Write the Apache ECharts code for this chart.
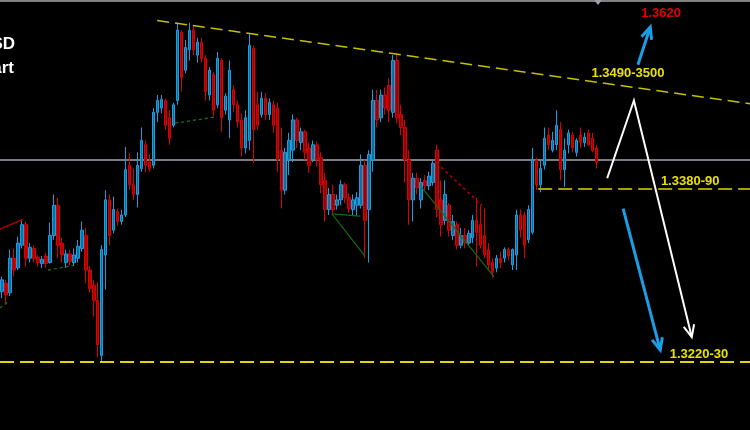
<!DOCTYPE html>
<html><head><meta charset="utf-8">
<script src="https://cdn.jsdelivr.net/npm/echarts/dist/echarts.min.js"></script>
<style>html,body{margin:0;padding:0;background:#000}#c{width:750px;height:430px}</style>
</head><body><div id="c"></div>
<script>
// ---- candle data (price) ----
const open = [
1.3290,1.3298,1.3289,1.3321,1.3312,1.3333,1.3352,1.3321,1.3330,1.3322,
1.3316,1.3323,1.3317,1.3342,1.3370,1.3335,1.3317,1.3325,1.3317,1.3321,
1.3330,1.3342,1.3310,1.3296,1.3282,1.3231,1.3324,1.3375,1.3347,1.3364,
1.3355,1.3361,1.3407,1.3389,1.3380,1.3404,1.3426,1.3410,1.3407,1.3456,
1.3460,1.3467,1.3451,1.3444,1.3467,1.3530,1.3495,1.3514,1.3532,1.3509,
1.3521,1.3506,1.3472,1.3491,1.3463,1.3504,1.3458,1.3449,1.3477,1.3463,
1.3449,1.3423,1.3430,1.3515,1.3463,1.3454,1.3469,1.3454,1.3463,1.3460,
1.3421,1.3384,1.3412,1.3421,1.3449,1.3428,1.3438,1.3423,1.3412,1.3426,
1.3414,1.3393,1.3366,1.3380,1.3370,1.3375,1.3389,1.3377,1.3366,1.3370,
1.3370,1.3407,1.3366,1.3412,1.3467,1.3451,1.3472,1.3481,1.3456,1.3504,
1.3454,1.3442,1.3412,1.3375,1.3395,1.3375,1.3393,1.3388,1.3391,1.3421,
1.3375,1.3356,1.3370,1.3342,1.3352,1.3333,1.3342,1.3335,1.3340,1.3356,
1.3352,1.3342,1.3329,1.3317,1.3312,1.3321,1.3321,1.3329,1.3315,1.3324,
1.3361,1.3361,1.3338,1.3345,1.3412,1.3389,1.3407,1.3435,1.3421,1.3426,
1.3440,1.3403,1.3426,1.3435,1.3419,1.3435,1.3428,1.3437,1.3432,1.3423];
const close = [
1.3301,1.3287,1.3321,1.3310,1.3335,1.3352,1.3321,1.3331,1.3321,1.3317,
1.3320,1.3316,1.3342,1.3370,1.3333,1.3324,1.3325,1.3318,1.3324,1.3332,
1.3347,1.3310,1.3293,1.3282,1.3241,1.3329,1.3375,1.3342,1.3366,1.3355,
1.3361,1.3403,1.3389,1.3380,1.3407,1.3430,1.3407,1.3404,1.3456,1.3467,
1.3468,1.3444,1.3432,1.3463,1.3532,1.3488,1.3516,1.3532,1.3514,1.3521,
1.3506,1.3475,1.3495,1.3458,1.3506,1.3451,1.3471,1.3495,1.3463,1.3447,
1.3423,1.3451,1.3518,1.3440,1.3444,1.3469,1.3454,1.3465,1.3444,1.3412,
1.3384,1.3419,1.3430,1.3449,1.3430,1.3438,1.3419,1.3407,1.3426,1.3412,
1.3389,1.3366,1.3380,1.3366,1.3375,1.3389,1.3377,1.3367,1.3375,1.3377,
1.3407,1.3356,1.3417,1.3467,1.3449,1.3472,1.3460,1.3458,1.3504,1.3451,
1.3442,1.3412,1.3375,1.3395,1.3386,1.3391,1.3388,1.3397,1.3409,1.3366,
1.3352,1.3380,1.3347,1.3355,1.3333,1.3342,1.3335,1.3344,1.3356,1.3345,
1.3333,1.3324,1.3315,1.3308,1.3321,1.3317,1.3329,1.3323,1.3329,1.3361,
1.3347,1.3333,1.3366,1.3412,1.3389,1.3404,1.3432,1.3426,1.3430,1.3444,
1.3403,1.3421,1.3437,1.3423,1.3430,1.3428,1.3433,1.3426,1.3421,1.3410];
const low = [
1.3284,1.3278,1.3286,1.3304,1.3310,1.3330,1.3313,1.3317,1.3317,1.3313,
1.3312,1.3312,1.3316,1.3338,1.3321,1.3317,1.3312,1.3314,1.3314,1.3317,
1.3327,1.3298,1.3289,1.3267,1.3229,1.3225,1.3292,1.3333,1.3344,1.3351,
1.3352,1.3359,1.3384,1.3375,1.3368,1.3401,1.3401,1.3401,1.3404,1.3447,
1.3455,1.3440,1.3426,1.3442,1.3463,1.3475,1.3492,1.3504,1.3509,1.3502,
1.3502,1.3467,1.3467,1.3452,1.3460,1.3438,1.3454,1.3432,1.3456,1.3442,
1.3415,1.3418,1.3421,1.3409,1.3440,1.3451,1.3449,1.3449,1.3437,1.3401,
1.3367,1.3380,1.3398,1.3410,1.3423,1.3421,1.3412,1.3400,1.3410,1.3406,
1.3381,1.3355,1.3361,1.3361,1.3366,1.3370,1.3372,1.3363,1.3360,1.3361,
1.3367,1.3321,1.3317,1.3401,1.3442,1.3447,1.3454,1.3447,1.3451,1.3446,
1.3435,1.3391,1.3352,1.3355,1.3380,1.3367,1.3384,1.3384,1.3388,1.3359,
1.3341,1.3352,1.3341,1.3338,1.3329,1.3330,1.3330,1.3333,1.3335,1.3313,
1.3330,1.3321,1.3310,1.3303,1.3308,1.3312,1.3317,1.3319,1.3310,1.3310,
1.3340,1.3321,1.3335,1.3343,1.3384,1.3382,1.3403,1.3421,1.3419,1.3421,
1.3393,1.3387,1.3418,1.3419,1.3415,1.3423,1.3424,1.3425,1.3419,1.3404];
const high = [
1.3304,1.3301,1.3329,1.3330,1.3341,1.3357,1.3355,1.3335,1.3333,1.3324,
1.3323,1.3326,1.3354,1.3380,1.3377,1.3340,1.3329,1.3329,1.3330,1.3338,
1.3355,1.3349,1.3314,1.3301,1.3299,1.3333,1.3384,1.3380,1.3378,1.3367,
1.3366,1.3424,1.3418,1.3404,1.3419,1.3442,1.3430,1.3417,1.3460,1.3472,
1.3472,1.3469,1.3458,1.3465,1.3539,1.3532,1.3523,1.3539,1.3537,1.3525,
1.3525,1.3509,1.3498,1.3493,1.3512,1.3506,1.3474,1.3504,1.3481,1.3467,
1.3455,1.3458,1.3529,1.3518,1.3475,1.3475,1.3474,1.3469,1.3467,1.3465,
1.3442,1.3423,1.3437,1.3454,1.3451,1.3442,1.3440,1.3428,1.3430,1.3429,
1.3419,1.3400,1.3386,1.3389,1.3380,1.3393,1.3391,1.3381,1.3380,1.3382,
1.3417,1.3412,1.3421,1.3477,1.3477,1.3477,1.3479,1.3488,1.3509,1.3511,
1.3463,1.3449,1.3421,1.3400,1.3400,1.3395,1.3398,1.3401,1.3412,1.3426,
1.3393,1.3393,1.3372,1.3361,1.3355,1.3349,1.3349,1.3347,1.3361,1.3377,
1.3370,1.3367,1.3335,1.3321,1.3324,1.3327,1.3331,1.3331,1.3330,1.3366,
1.3366,1.3364,1.3370,1.3423,1.3414,1.3412,1.3442,1.3442,1.3438,1.3458,
1.3447,1.3432,1.3440,1.3438,1.3432,1.3442,1.3437,1.3440,1.3437,1.3426];

// ---- levels & drawings (x in bar-slot units, y in price) ----
const slotCount = 188;
const trendX = [38.9, 187.5], trendY = [1.3541, 1.3464];
const supportLow = 1.3225;
const supportMid = 1.3385, supportMidStart = 134.4;
const currentPrice = 1.3412;
const whiteArrowX = [151.7, 158.4, 172.9], whiteArrowY = [1.3395, 1.3467, 1.3248];
const blueUpX = [159.4, 162.5], blueUpY = [1.3500, 1.3535];
const blueDownX = [155.7, 165.0], blueDownY = [1.3367, 1.3236];
const redLineX = [-0.5, 5.3], redLineY = [1.3348, 1.3357];
const redDashX = [109.0, 120.3], redDashY = [1.3409, 1.3370];
const greenDash = [
  [[-0.5, 1.3275], [1.3, 1.3280]],
  [[11.5, 1.3310], [19.0, 1.3315]],
  [[43.4, 1.3446], [53.9, 1.3452]]
];
const greenSolid = [
  [[82.7, 1.3362], [89.8, 1.3360]],
  [[82.7, 1.3362], [91.0, 1.3323]],
  [[105.3, 1.3386], [123.3, 1.3304]]
];
const labelTexts = ['1.3620', '1.3490-3500', '1.3380-90', '1.3220-30'];
const labelX = [165.2, 156.9, 172.5, 174.7];
const labelY = [1.3548, 1.3492, 1.3392, 1.3232];
const labelColors = ['#e80000', '#e8e000', '#e8e000', '#e8e000'];

const categories = Array.from({length: slotCount}, (_, i) => String(i + 1));
const candles = open.map((o, i) => [o, close[i], low[i], high[i]]);
const pairs = (xs, ys) => xs.map((x, i) => [x, ys[i]]);

function lineSeries(data, color, width, type, z) {
  return { type: 'line', xAxisIndex: 1, yAxisIndex: 0, data, symbol: 'none', silent: true,
    lineStyle: { color, width, type }, z: z || 3, animation: false };
}

function arrow(api, xs, ys, color, width, headLen) {
  const pts = xs.map((x, i) => api.coord([x, ys[i]]));
  const n = pts.length, p1 = pts[n - 2], p2 = pts[n - 1];
  const a = Math.atan2(p2[1] - p1[1], p2[0] - p1[0]);
  const w1 = [p2[0] + headLen * Math.cos(a + Math.PI - 0.42), p2[1] + headLen * Math.sin(a + Math.PI - 0.42)];
  const w2 = [p2[0] + headLen * Math.cos(a + Math.PI + 0.42), p2[1] + headLen * Math.sin(a + Math.PI + 0.42)];
  return [
    { type: 'polyline', shape: { points: pts }, style: { stroke: color, lineWidth: width, fill: null } },
    { type: 'polyline', shape: { points: [w1, p2, w2] }, style: { stroke: color, lineWidth: width, fill: null } }
  ];
}

const chart = echarts.init(document.getElementById('c'), null, { renderer: 'canvas' });
const series = [
  lineSeries(pairs([-0.5, 187.5], [currentPrice, currentPrice]), '#7c7c84', 2, 'solid', 1),
  { type: 'candlestick', xAxisIndex: 0, yAxisIndex: 0, data: candles, barWidth: 3, z: 2,
    itemStyle: { color: '#0e6fa0', color0: '#a00000', borderColor: '#1a9ee2', borderColor0: '#dc0000', borderWidth: 1 },
    animation: false, silent: true },
  lineSeries(pairs(trendX, trendY), '#c4c000', 1.5, [12, 6]),
  lineSeries(pairs([-0.5, 187.5], [supportLow, supportLow]), '#e2d400', 2, [14, 6]),
  lineSeries(pairs([supportMidStart, 187.5], [supportMid, supportMid]), '#a8a000', 2, [14, 6]),
  lineSeries(pairs(redLineX, redLineY), '#b00000', 1.5, 'solid'),
  lineSeries(pairs(redDashX, redDashY), '#b00000', 1.5, [3, 3]),
  ...greenDash.map(d => lineSeries(d, '#1a7a1a', 1.2, [3, 3])),
  ...greenSolid.map(d => lineSeries(d, '#156a15', 1.2, 'solid')),
  { type: 'custom', xAxisIndex: 1, yAxisIndex: 0, data: [[0, 1.34]], z: 10, silent: true, animation: false,
    renderItem: function (params, api) {
      const children = [];
      children.push(...arrow(api, whiteArrowX, whiteArrowY, '#ffffff', 2, 13));
      children.push(...arrow(api, blueUpX, blueUpY, '#1a9ee6', 3, 13));
      children.push(...arrow(api, blueDownX, blueDownY, '#1a9ee6', 3, 13));
      labelTexts.forEach((t, i) => {
        const p = api.coord([labelX[i], labelY[i]]);
        children.push({ type: 'text', x: p[0], y: p[1],
          style: { text: t, fill: labelColors[i], font: 'bold 13px "Liberation Sans", Arial, sans-serif',
            align: 'center', verticalAlign: 'middle', textAlign: 'center', textVerticalAlign: 'middle' } });
      });
      return { type: 'group', children };
    } }
];

chart.setOption({
  backgroundColor: '#000000',
  animation: false,
  grid: { left: 0, right: 0, top: 0, bottom: 0 },
  xAxis: [
    { type: 'category', data: categories, boundaryGap: true, show: false },
    { type: 'value', min: -0.5, max: 187.5, show: false }
  ],
  yAxis: { type: 'value', min: 1.3162, max: 1.3560, show: false },
  series,
  graphic: [
    { type: 'rect', shape: { x: 0, y: 0, width: 750, height: 2 }, style: { fill: '#808080' }, z: 20 },
    { type: 'polygon', shape: { points: [[594, 0], [602, 0], [598, 5]] }, style: { fill: '#a0a0a8' }, z: 20 },
    { type: 'text', x: 15, y: 44, style: { text: 'GBPUSD', fill: '#ffffff', font: 'bold 17px "Liberation Sans", Arial, sans-serif',
      align: 'right', verticalAlign: 'middle', textAlign: 'right', textVerticalAlign: 'middle' }, z: 20 },
    { type: 'text', x: 14, y: 68, style: { text: 'H4 Chart', fill: '#ffffff', font: 'bold 17px "Liberation Sans", Arial, sans-serif',
      align: 'right', verticalAlign: 'middle', textAlign: 'right', textVerticalAlign: 'middle' }, z: 20 }
  ]
});
</script>
</body></html>
